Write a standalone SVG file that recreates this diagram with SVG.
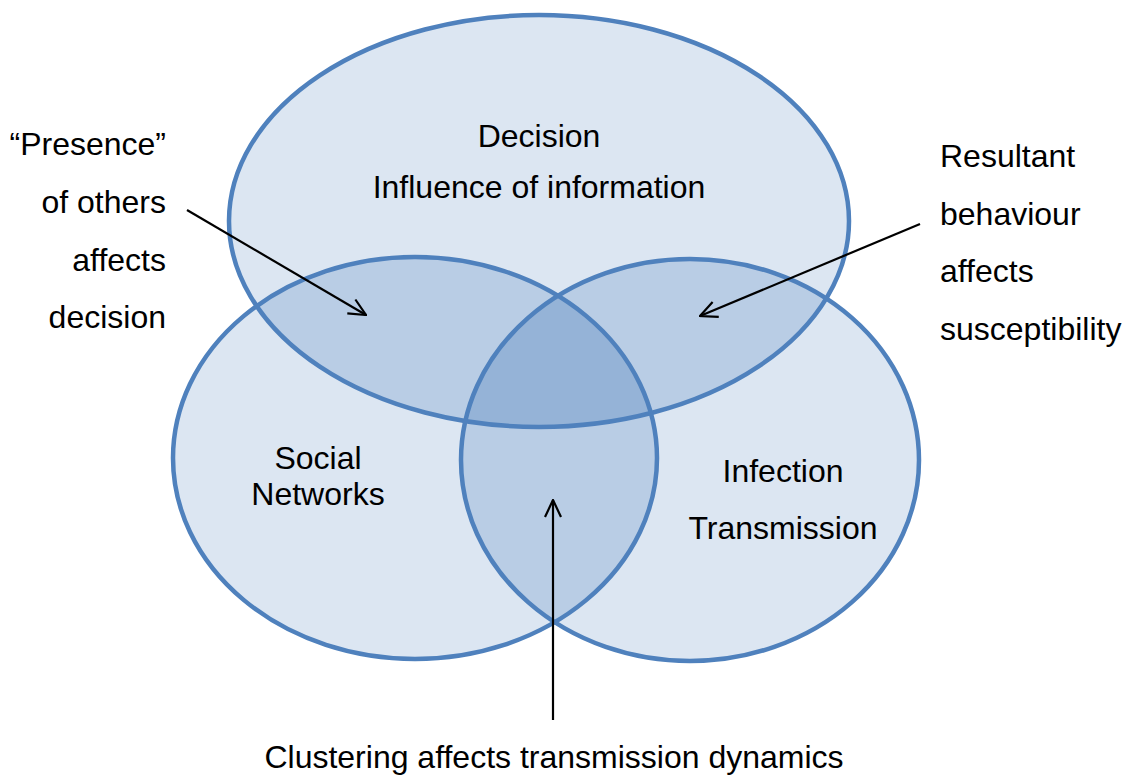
<svg xmlns="http://www.w3.org/2000/svg" width="1131" height="777" viewBox="0 0 1131 777">
  <style>
    .fill1 { fill: #dce6f2; }
    .fill2 { fill: #b9cde5; }
    .fill3 { fill: #95b3d7; }
    .ring { fill: none; stroke: #4f81bd; stroke-width: 4.5; }
    .lbl { font-family: "Liberation Sans", Arial, sans-serif; font-size: 32px; fill: #000; }
    .mid { text-anchor: middle; }
    .end { text-anchor: end; }
    .arrow { stroke: #000; stroke-width: 2.2; fill: none; marker-end: url(#open); }
  </style>
  <defs>
    <marker id="open" viewBox="0 0 20 20" refX="19" refY="10" markerWidth="20" markerHeight="20" markerUnits="userSpaceOnUse" orient="auto">
      <path d="M2,2 L19,10 L2,18" fill="none" stroke="#000" stroke-width="2.2"/>
    </marker>
    <ellipse id="eTop" cx="539" cy="221" rx="310" ry="206"/>
    <ellipse id="eLeft" cx="415" cy="458" rx="242" ry="201"/>
    <ellipse id="eRight" cx="690" cy="460" rx="229" ry="201"/>
    <clipPath id="cTop"><use href="#eTop"/></clipPath>
    <clipPath id="cLeft"><use href="#eLeft"/></clipPath>
    <clipPath id="cRight"><use href="#eRight"/></clipPath>
  </defs>

  <rect width="1131" height="777" fill="#fff"/>

  <!-- circle fills: single, pairwise and triple overlaps -->
  <g id="fills">
    <use href="#eTop" class="fill1"/>
    <use href="#eLeft" class="fill1"/>
    <use href="#eRight" class="fill1"/>
    <g clip-path="url(#cTop)">
      <use href="#eLeft" class="fill2"/>
      <use href="#eRight" class="fill2"/>
    </g>
    <g clip-path="url(#cLeft)">
      <use href="#eRight" class="fill2"/>
    </g>
    <g clip-path="url(#cTop)">
      <g clip-path="url(#cLeft)">
        <use href="#eRight" class="fill3"/>
      </g>
    </g>
  </g>

  <!-- circle outlines and labels -->
  <g id="decision">
    <use href="#eTop" class="ring"/>
    <text class="lbl mid" x="539" y="147">Decision</text>
    <text class="lbl mid" x="539" y="198">Influence of information</text>
  </g>
  <g id="social-networks">
    <use href="#eLeft" class="ring"/>
    <text class="lbl mid" x="318" y="469">Social</text>
    <text class="lbl mid" x="318" y="505">Networks</text>
  </g>
  <g id="infection-transmission">
    <use href="#eRight" class="ring"/>
    <text class="lbl mid" x="783" y="482">Infection</text>
    <text class="lbl mid" x="783" y="539">Transmission</text>
  </g>

  <!-- annotation labels -->
  <g id="note-presence">
    <text class="lbl end" x="166" y="155">“Presence”</text>
    <text class="lbl end" x="166" y="213">of others</text>
    <text class="lbl end" x="166" y="271">affects</text>
    <text class="lbl end" x="166" y="328">decision</text>
  </g>
  <g id="note-behaviour">
    <text class="lbl" x="940" y="167">Resultant</text>
    <text class="lbl" x="940" y="225">behaviour</text>
    <text class="lbl" x="940" y="282">affects</text>
    <text class="lbl" x="940" y="340">susceptibility</text>
  </g>
  <g id="note-clustering">
    <text class="lbl mid" x="554" y="768">Clustering affects transmission dynamics</text>
  </g>

  <!-- connectors -->
  <g id="connectors">
    <line class="arrow" x1="187" y1="210" x2="366" y2="315"/>
    <line class="arrow" x1="920" y1="224" x2="700" y2="316"/>
    <line class="arrow" x1="553" y1="720" x2="553" y2="500"/>
  </g>
</svg>
